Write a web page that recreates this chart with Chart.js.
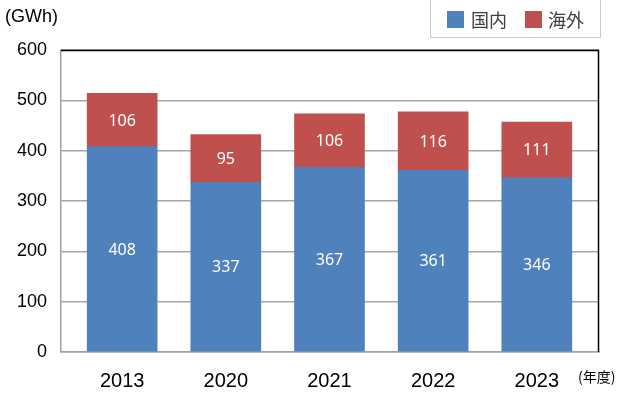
<!DOCTYPE html>
<html><head><meta charset="utf-8">
<script src="https://cdn.jsdelivr.net/npm/chart.js@4"></script>
<style>html,body{margin:0;padding:0;background:#fff}#wrap{width:640px;height:400px}</style>
</head><body><div id="wrap"><canvas id="c" width="640" height="400"></canvas></div>
<script>
const categories = ['2013', '2020', '2021', '2022', '2023'];
const domestic = [408, 337, 367, 361, 346];
const overseas = [106, 95, 106, 116, 111];
const seriesNames = ['国内', '海外'];
const yTicks = [0, 100, 200, 300, 400, 500, 600];
const unitLabel = '(GWh)';
const xUnitLabel = '(年度)';

const BLUE = '#4F81BD', RED = '#C0504D';

const extras = {
  id: 'extras',
  afterDatasetsDraw(chart) {
    const ctx = chart.ctx, a = chart.chartArea;
    ctx.save();
    // top and right border
    ctx.strokeStyle = '#000';
    ctx.lineWidth = 1.5;
    ctx.beginPath();
    ctx.moveTo(a.left, a.top + 0.5);
    ctx.lineTo(a.right - 0.5, a.top + 0.5);
    ctx.lineTo(a.right - 0.5, a.bottom);
    ctx.stroke();
    // data labels
    ctx.fillStyle = '#fff';
    ctx.font = '16px "Noto Sans", "Liberation Sans", sans-serif';
    ctx.textAlign = 'center';
    ctx.textBaseline = 'middle';
    chart.data.datasets.forEach((ds, di) => {
      const meta = chart.getDatasetMeta(di);
      meta.data.forEach((bar, i) => {
        const p = bar.getProps(['x', 'y', 'base'], true);
        ctx.fillText(String(ds.data[i].y), p.x, (p.y + p.base) / 2 + 1);
      });
    });
    // unit labels
    ctx.fillStyle = '#000';
    ctx.textAlign = 'left';
    ctx.font = '18px "Liberation Sans", "Noto Sans CJK JP", sans-serif';
    ctx.fillText(unitLabel, 5, 17);
    ctx.font = '14px "Noto Sans CJK JP", sans-serif';
    ctx.fillText(xUnitLabel, 578, 377);
    // legend
    ctx.strokeStyle = '#C8C8C8';
    ctx.lineWidth = 1;
    ctx.strokeRect(430.5, -1, 170, 38.5);
    const items = [[447, BLUE, seriesNames[0], 471], [525, RED, seriesNames[1], 548]];
    ctx.font = '18px "Noto Sans CJK JP", sans-serif';
    items.forEach(([x, c, t, tx]) => {
      ctx.fillStyle = c;
      ctx.fillRect(x, 11, 17, 17);
      ctx.fillStyle = '#404040';
      ctx.fillText(t, tx, 20);
    });
    ctx.restore();
  }
};

new Chart(document.getElementById('c'), {
  type: 'bar',
  data: {
    datasets: [
      { label: seriesNames[0], data: domestic.map((v, i) => ({ x: i, y: v })), backgroundColor: BLUE, barThickness: 70 },
      { label: seriesNames[1], data: overseas.map((v, i) => ({ x: i, y: v })), backgroundColor: RED, barThickness: 70 }
    ]
  },
  options: {
    responsive: false,
    animation: false,
    layout: { padding: { left: 0, top: 50, right: 41, bottom: 0 } },
    plugins: { legend: { display: false }, tooltip: { enabled: false } },
    scales: {
      x: {
        type: 'linear', stacked: true, min: -0.59, max: 4.6, offset: false,
        afterBuildTicks(s) { s.ticks = categories.map((c, i) => ({ value: i })); },
        afterFit(s) { s.height = 48; },
        grid: { display: false },
        border: { display: true, color: '#A0A0A0', width: 1.5 },
        ticks: {
          callback: (v) => categories[v],
          color: '#000', padding: 9,
          font: { size: 20, family: '"Liberation Sans", Arial, sans-serif' },
          maxRotation: 0, autoSkip: false
        }
      },
      y: {
        stacked: true, min: 0, max: 600,
        afterBuildTicks(s) { s.ticks = yTicks.map(v => ({ value: v })); },
        afterFit(s) { s.width = 61; },
        grid: { color: '#A6A6A6', lineWidth: 1.5, drawTicks: false },
        border: { display: true, color: '#A0A0A0', width: 1.5 },
        ticks: {
          color: '#000', padding: 14,
          font: { size: 18, family: '"Liberation Sans", Arial, sans-serif' }
        }
      }
    }
  },
  plugins: [extras]
});
</script></body></html>
